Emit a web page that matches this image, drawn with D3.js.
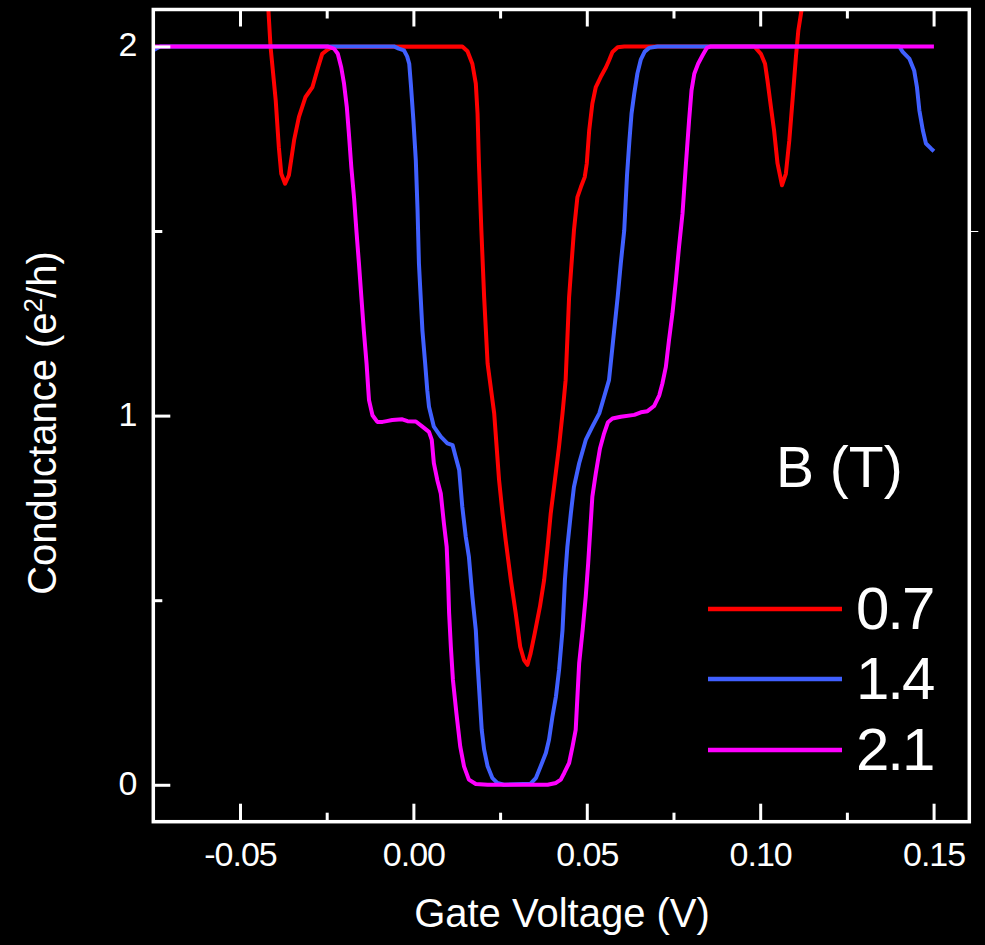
<!DOCTYPE html>
<html>
<head>
<meta charset="utf-8">
<script src="https://cdn.jsdelivr.net/npm/d3@7"></script>
<style>
  html, body { margin: 0; padding: 0; background: #000; }
  svg { display: block; }
  text { font-family: "Liberation Sans", Arial, Helvetica, sans-serif; fill: #fff; }
</style>
</head>
<body>
<svg id="chart" width="985" height="945"></svg>
<script>
// ---- Data (Gate voltage in V, conductance in e^2/h) ----
const fieldLabels = ["0.7", "1.4", "2.1"];
const legendTitle = "B (T)";
const seriesColors = ["#ff0000", "#4060ff", "#ff00ff"];

const v07 = [-0.0440, -0.0418, -0.0412, -0.0397, -0.0388, -0.0381, -0.0370, -0.0359, -0.0344, -0.0330, -0.0311, -0.0291, -0.0275, -0.0263, -0.0248, -0.0234,
  0.0141, 0.0156, 0.0170, 0.0180, 0.0185, 0.0189, 0.0196, 0.0204, 0.0214, 0.0233, 0.0240, 0.0247, 0.0257, 0.0266, 0.0281, 0.0295, 0.0308, 0.0319, 0.0329,
  0.0338, 0.0350, 0.0365, 0.0377, 0.0387, 0.0396, 0.0408, 0.0420, 0.0430, 0.0439, 0.0449, 0.0463, 0.0473, 0.0483, 0.0494, 0.0500, 0.0507, 0.0516, 0.0526,
  0.0540, 0.0555, 0.0564, 0.0574, 0.0589, 0.0608, 0.0983, 0.1002, 0.1014, 0.1021, 0.1031, 0.1040, 0.1050, 0.1063, 0.1074, 0.1084, 0.1094, 0.1103, 0.1110,
  0.1119, 0.1125];
const g07 = [2.40, 2.097, 2.00, 1.854, 1.727, 1.655, 1.628, 1.651, 1.746, 1.809, 1.863, 1.890, 1.943, 1.980, 1.991, 1.999,
  2.00, 1.987, 1.953, 1.899, 1.818, 1.683, 1.502, 1.321, 1.141, 1.006, 0.916, 0.826, 0.735, 0.663, 0.555, 0.465, 0.374, 0.338, 0.325,
  0.356, 0.411, 0.483, 0.555, 0.645, 0.735, 0.825, 0.916, 1.006, 1.096, 1.321, 1.502, 1.592, 1.619, 1.646, 1.683, 1.773, 1.845, 1.890,
  1.917, 1.943, 1.962, 1.985, 1.998, 2.00, 2.00, 1.980, 1.953, 1.908, 1.836, 1.773, 1.683, 1.624, 1.655, 1.746, 1.863, 1.971, 2.043,
  2.097, 2.30];

const v14 = [-0.0750, -0.0730, -0.0056, -0.0042, -0.0027, -0.0018, -0.0012, -0.0007, 0.0000, 0.0007, 0.0012, 0.0016, 0.0021, 0.0026, 0.0034, 0.0040,
  0.0045, 0.0059, 0.0079, 0.0098, 0.0113, 0.0122, 0.0132, 0.0141, 0.0151, 0.0160, 0.0170, 0.0180, 0.0185, 0.0191, 0.0197, 0.0204, 0.0214, 0.0228,
  0.0242, 0.0261, 0.0338, 0.0353, 0.0367, 0.0382, 0.0391, 0.0401, 0.0411, 0.0420, 0.0430, 0.0437, 0.0444, 0.0454, 0.0463, 0.0478, 0.0497, 0.0516,
  0.0536, 0.0550, 0.0564, 0.0569, 0.0579, 0.0589, 0.0598, 0.0608, 0.0616, 0.0623, 0.0629, 0.0637, 0.0646, 0.0656, 0.0667, 0.0680, 0.0704, 0.1401,
  0.1411, 0.1430, 0.1444, 0.1452, 0.1459, 0.1469, 0.1478, 0.1493, 0.1501];
const g14 = [1.99, 2.00, 2.00, 1.994, 1.989, 1.973, 1.953, 1.894, 1.800, 1.691, 1.556, 1.412, 1.321, 1.231, 1.141, 1.069,
  1.024, 0.970, 0.943, 0.925, 0.920, 0.888, 0.853, 0.753, 0.672, 0.618, 0.510, 0.419, 0.329, 0.239, 0.149, 0.095, 0.050, 0.018,
  0.005, 0.000, 0.003, 0.018, 0.050, 0.086, 0.122, 0.185, 0.239, 0.311, 0.419, 0.555, 0.645, 0.735, 0.807, 0.871, 0.934, 0.970,
  1.006, 1.051, 1.096, 1.141, 1.231, 1.321, 1.412, 1.502, 1.651, 1.746, 1.818, 1.873, 1.927, 1.965, 1.986, 1.996, 2.00, 2.00,
  1.985, 1.967, 1.935, 1.890, 1.827, 1.773, 1.737, 1.723, 1.716];

const v21 = [-0.0750, -0.0248, -0.0229, -0.0218, -0.0208, -0.0200, -0.0192, -0.0186, -0.0179, -0.0171, -0.0164, -0.0157, -0.0150, -0.0143, -0.0135,
  -0.0130, -0.0128, -0.0118, -0.0104, -0.0089, -0.0077, -0.0061, -0.0032, -0.0017, 0.0007, 0.0026, 0.0045, 0.0053, 0.0059, 0.0069, 0.0079, 0.0088,
  0.0096, 0.0100, 0.0103, 0.0108, 0.0114, 0.0124, 0.0135, 0.0146, 0.0160, 0.0180, 0.0214, 0.0387, 0.0411, 0.0425, 0.0435, 0.0449, 0.0459, 0.0468,
  0.0473, 0.0478, 0.0488, 0.0497, 0.0504, 0.0510, 0.0516, 0.0526, 0.0538, 0.0550, 0.0561, 0.0574, 0.0598, 0.0637, 0.0656, 0.0675, 0.0694, 0.0709,
  0.0718, 0.0728, 0.0737, 0.0747, 0.0757, 0.0766, 0.0776, 0.0786, 0.0795, 0.0802, 0.0810, 0.0821, 0.0834, 0.0846, 0.0858, 0.1501];
const g21 = [2.00, 2.00, 1.994, 1.980, 1.943, 1.899, 1.836, 1.764, 1.673, 1.589, 1.497, 1.412, 1.321, 1.231, 1.141,
  1.069, 1.042, 1.001, 0.983, 0.983, 0.985, 0.988, 0.990, 0.985, 0.984, 0.970, 0.956, 0.934, 0.871, 0.825, 0.789, 0.708,
  0.645, 0.555, 0.465, 0.374, 0.284, 0.194, 0.104, 0.050, 0.014, 0.002, 0.000, 0.000, 0.005, 0.014, 0.032, 0.059, 0.104, 0.149,
  0.239, 0.329, 0.419, 0.510, 0.600, 0.690, 0.780, 0.844, 0.911, 0.952, 0.982, 0.992, 0.997, 1.002, 1.009, 1.012, 1.026, 1.055,
  1.087, 1.132, 1.204, 1.277, 1.367, 1.457, 1.547, 1.683, 1.800, 1.881, 1.926, 1.953, 1.976, 1.996, 2.00, 2.00];

const xMajorTicks = [-0.05, 0.00, 0.05, 0.10, 0.15];
const xTickLabels = ["-0.05", "0.00", "0.05", "0.10", "0.15"];
const xMinorTicks = [-0.025, 0.025, 0.075, 0.125];
const yMajorTicks = [0, 1, 2];
const yTickLabels = ["0", "1", "2"];
const yMinorTicks = [0.5, 1.5];
const xTitle = "Gate Voltage (V)";

// ---- Layout ----
const svg = d3.select("#chart");
const L = 153.3, R = 969.3, T = 9.5, B = 821.7;
const x = d3.scaleLinear().domain([-0.075, 0.1603]).range([L, R]);
const y = d3.scaleLinear().domain([-0.1, 2.1]).range([B, T]);

svg.append("rect").attr("width", 985).attr("height", 945).attr("fill", "#000");

svg.append("defs").append("clipPath").attr("id", "plotclip")
  .append("rect").attr("x", L).attr("y", T).attr("width", R - L).attr("height", B - T);

// ---- Series ----
const series = [
  {v: v07, g: g07, color: seriesColors[0]},
  {v: v14, g: g14, color: seriesColors[1]},
  {v: v21, g: g21, color: seriesColors[2]}
];
const line = d3.line().x(d => x(d[0])).y(d => y(d[1]));
const plot = svg.append("g").attr("clip-path", "url(#plotclip)");
series.forEach(s => {
  plot.append("path")
    .datum(s.v.map((vv, i) => [vv, s.g[i]]))
    .attr("d", line)
    .attr("fill", "none")
    .attr("stroke", s.color)
    .attr("stroke-width", 4)
    .attr("stroke-linejoin", "round")
    .attr("stroke-linecap", "butt");
});

// ---- Axes ----
const fmtX = d => xTickLabels[xMajorTicks.indexOf(d)];
const fmtY = d => yTickLabels[yMajorTicks.indexOf(d)];
function styleAxis(g) {
  g.select(".domain").remove();
  g.selectAll(".tick line").attr("stroke", "#fff").attr("stroke-width", 3);
  g.selectAll(".tick text").attr("fill", "#fff").style("font-family", "'Liberation Sans', Arial, sans-serif");
}
// bottom major
svg.append("g").attr("transform", `translate(0,${B})`)
  .call(d3.axisBottom(x).tickValues(xMajorTicks).tickFormat(fmtX).tickSizeInner(-18).tickSizeOuter(0).tickPadding(20))
  .call(styleAxis)
  .call(g => g.selectAll(".tick text").style("font-size", "34px").attr("letter-spacing", "-1"));
// bottom minor
svg.append("g").attr("transform", `translate(0,${B})`)
  .call(d3.axisBottom(x).tickValues(xMinorTicks).tickFormat("").tickSizeInner(-9).tickSizeOuter(0))
  .call(styleAxis);
// top major / minor
svg.append("g").attr("transform", `translate(0,${T})`)
  .call(d3.axisTop(x).tickValues(xMajorTicks).tickFormat("").tickSizeInner(-17).tickSizeOuter(0))
  .call(styleAxis);
svg.append("g").attr("transform", `translate(0,${T})`)
  .call(d3.axisTop(x).tickValues(xMinorTicks).tickFormat("").tickSizeInner(-9).tickSizeOuter(0))
  .call(styleAxis);
// left major / minor
svg.append("g").attr("transform", `translate(${L},0)`)
  .call(d3.axisLeft(y).tickValues(yMajorTicks).tickFormat(fmtY).tickSizeInner(-17).tickSizeOuter(0).tickPadding(16))
  .call(styleAxis)
  .call(g => g.selectAll(".tick text").style("font-size", "34px").attr("dy", "0.28em"));
svg.append("g").attr("transform", `translate(${L},0)`)
  .call(d3.axisLeft(y).tickValues(yMinorTicks).tickFormat("").tickSizeInner(-9).tickSizeOuter(0))
  .call(styleAxis);
// right: a single thin outward mark
svg.append("g").attr("transform", `translate(${R},0)`)
  .call(d3.axisRight(y).tickValues([1.5]).tickFormat("").tickSizeInner(9).tickSizeOuter(0))
  .call(styleAxis)
  .call(g => g.selectAll(".tick line").attr("stroke-width", 1));

// frame
svg.append("rect").attr("x", L).attr("y", T).attr("width", R - L).attr("height", B - T)
  .attr("fill", "none").attr("stroke", "#fff").attr("stroke-width", 3.5);

// ---- Titles ----
svg.append("text").attr("x", 562).attr("y", 927).attr("text-anchor", "middle")
  .style("font-size", "40px").text(xTitle);

const yt = svg.append("text").attr("transform", "translate(56,423) rotate(-90)")
  .attr("text-anchor", "middle").style("font-size", "40px");
yt.append("tspan").text("Conductance (e");
yt.append("tspan").attr("dy", "-14").style("font-size", "26px").text("2");
yt.append("tspan").attr("dy", "14").text("/h)");

// ---- Legend ----
svg.append("text").attr("x", 776).attr("y", 487).style("font-size", "57px").text(legendTitle);
const legY = [609, 679, 750];
fieldLabels.forEach((lab, i) => {
  svg.append("line").attr("x1", 708).attr("x2", 842).attr("y1", legY[i]).attr("y2", legY[i])
    .attr("stroke", seriesColors[i]).attr("stroke-width", 4.5);
  svg.append("text").attr("x", 856).attr("y", legY[i] + 19.5).style("font-size", "60px")
    .attr("letter-spacing", "-2").text(lab);
});
</script>
</body>
</html>
